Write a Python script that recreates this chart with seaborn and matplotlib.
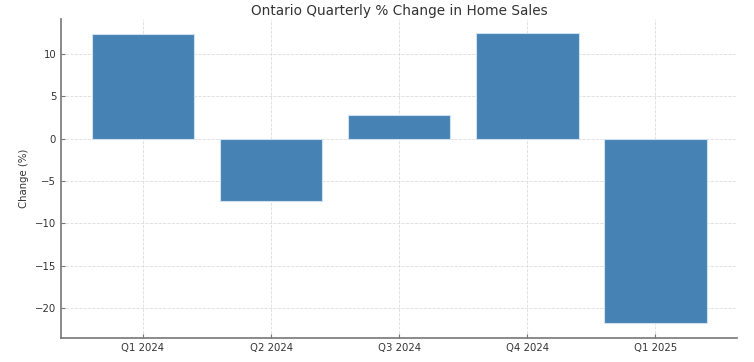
import matplotlib
matplotlib.use("Agg")
import matplotlib.pyplot as plt
import seaborn as sns
import pandas as pd

quarters = ["Q1 2024", "Q2 2024", "Q3 2024", "Q4 2024", "Q1 2025"]
pct_change = [12.35, -7.3, 2.8, 12.45, -21.8]

df = pd.DataFrame({"Quarter": quarters, "Change": pct_change})

sns.set_style("white")
plt.rcParams["font.family"] = ["DejaVu Sans"]

fig = plt.figure(figsize=(7.54, 3.62), dpi=100)
ax = fig.add_axes([0.081, 0.067, 0.897, 0.881])

sns.barplot(data=df, x="Quarter", y="Change", color="#4682B4", saturation=1,
            width=0.8, edgecolor="#cfe0ef", linewidth=0.8, ax=ax, zorder=2)

ax.grid(True, linestyle="--", linewidth=0.6, color="#dddddd", zorder=0)
ax.set_axisbelow(True)
for s in ["top", "right"]:
    ax.spines[s].set_visible(False)
for s in ["left", "bottom"]:
    ax.spines[s].set_color("#777777")
    ax.spines[s].set_linewidth(1.2)

ax.tick_params(axis="both", direction="in", length=3, color="#777777",
               labelsize=7.3, labelcolor="#333333", left=True, bottom=True)
ax.set_xlabel("")
ax.set_ylabel("Change (%)", fontsize=7.3, color="#333333")
ax.set_title("Ontario Quarterly % Change in Home Sales", fontsize=9.8, color="#333333", pad=3)
ax.set_yticks([-20, -15, -10, -5, 0, 5, 10])
ax.set_yticklabels(["\u221220", "\u221215", "\u221210", "\u22125", "0", "5", "10"])
ax.set_xlim(-0.64, 4.64)
ax.margins(y=0.05)

fig.savefig("out.png", dpi=100)
